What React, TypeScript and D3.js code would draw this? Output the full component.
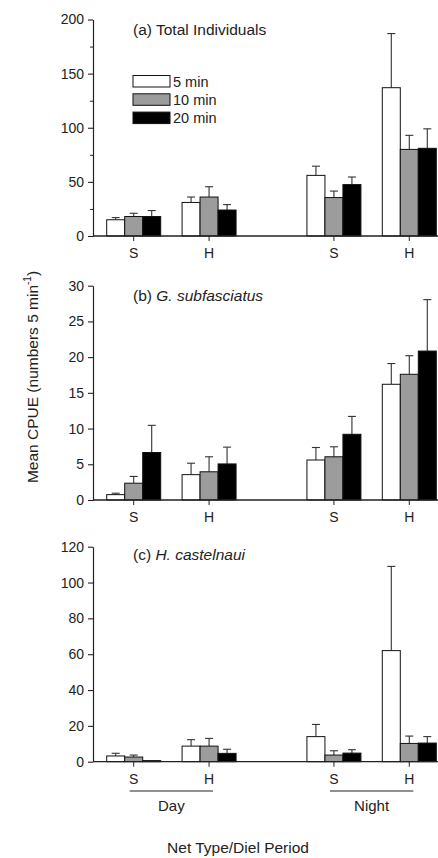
import React from 'react';
import * as d3 from 'd3';

const width = 438;
const height = 858;
const axisX = 93;
const plotRight = 450;
const font = '"Liberation Sans", Arial, sans-serif';

const netTypes = ['S', 'H', 'S', 'H'];
const periods = ['Day', 'Day', 'Night', 'Night'];
const durations = ['5 min', '10 min', '20 min'];
const fills = ['#ffffff', '#9c9c9c', '#000000'];

// (a) Total Individuals
const totalMean5 = [15, 31, 56, 137];
const totalMean10 = [18, 36, 35.5, 80];
const totalMean20 = [18, 24, 47.5, 81];
const totalSe5 = [2, 5, 8.5, 50];
const totalSe10 = [3, 9.5, 6, 13];
const totalSe20 = [5.5, 5, 7, 18];

// (b) G. subfasciatus
const gsMean5 = [0.75, 3.55, 5.6, 16.2];
const gsMean10 = [2.35, 3.95, 6.05, 17.6];
const gsMean20 = [6.65, 5.05, 9.2, 20.85];
const gsSe5 = [0.2, 1.6, 1.75, 2.9];
const gsSe10 = [0.95, 2.1, 1.4, 2.6];
const gsSe20 = [3.8, 2.35, 2.5, 7.2];

// (c) H. castelnaui
const hcMean5 = [3.2, 8.7, 14, 62];
const hcMean10 = [2.6, 8.7, 3.7, 10.2];
const hcMean20 = [0.6, 4.65, 4.8, 10.4];
const hcSe5 = [1.5, 3.6, 6.8, 47];
const hcSe10 = [1.1, 4.3, 2.4, 4.1];
const hcSe20 = [0, 2.3, 1.9, 3.6];

const outer = d3.scaleBand<string>()
  .domain(['Day', 'Night'])
  .range([axisX, plotRight])
  .paddingInner(0.4)
  .paddingOuter(0.0915);

const inner = d3.scalePoint<string>()
  .domain(['S', 'H'])
  .range([0, outer.bandwidth()])
  .padding(0.297);

const barOffset = d3.scaleBand<string>()
  .domain(durations)
  .range([-27, 27]);

const groupX = (i: number) => (outer(periods[i]) as number) + (inner(netTypes[i]) as number);

type PanelProps = {
  label: string;
  species?: string;
  max: number;
  step: number;
  minor: boolean;
  top: number;
  bottom: number;
  means: number[][];
  ses: number[][];
  titleDy: number;
  legend?: boolean;
};

const Panel: React.FC<PanelProps> = ({label, species, max, step, minor, top, bottom, means, ses, titleDy, legend}) => {
  const yAxisRef = React.useRef<SVGGElement>(null);
  const minorRef = React.useRef<SVGGElement>(null);

  const yScale = d3.scaleLinear().domain([0, max]).range([bottom, top]);

  React.useEffect(() => {
    const yAxis = d3.axisLeft(yScale)
      .tickValues(d3.range(0, max + step / 2, step))
      .tickSize(5)
      .tickSizeOuter(0)
      .tickPadding(4);
    if (yAxisRef.current) {
      const g = d3.select(yAxisRef.current).call(yAxis);
      g.select('.domain').attr('stroke', '#222').attr('stroke-width', 1.2);
      g.selectAll('.tick line').attr('stroke', '#222').attr('stroke-width', 1.1);
      g.selectAll('.tick text')
        .attr('font-family', font)
        .attr('font-size', 14)
        .attr('fill', '#222');
    }
    if (minor && minorRef.current) {
      const minorAxis = d3.axisLeft(yScale)
        .tickValues(d3.range(step / 2, max, step))
        .tickSize(3)
        .tickSizeOuter(0)
        .tickFormat(() => '');
      const g = d3.select(minorRef.current).call(minorAxis);
      g.select('.domain').remove();
      g.selectAll('.tick line').attr('stroke', '#222');
    }
  }, [max, step, top, bottom, minor]);

  return (
    <g>
      {means.map((series, s) =>
        series.map((v, i) => {
          const x = groupX(i) + (barOffset(durations[s]) as number);
          const bw = barOffset.bandwidth();
          const yTop = yScale(v);
          const yErr = yScale(v + ses[s][i]);
          const cx = x + bw / 2;
          return (
            <g key={`${s}-${i}`}>
              {ses[s][i] > 0 && (
                <g stroke='#333' strokeWidth={1.1}>
                  <line x1={cx} x2={cx} y1={yTop} y2={yErr} />
                  <line x1={cx - 4} x2={cx + 4} y1={yErr} y2={yErr} />
                </g>
              )}
              <rect x={x} y={yTop} width={bw} height={bottom - yTop}
                fill={fills[s]} stroke='#111' strokeWidth={1} />
            </g>
          );
        })
      )}
      <line x1={axisX} x2={plotRight} y1={bottom} y2={bottom} stroke='#222' strokeWidth={1.3} />
      {netTypes.map((n, i) => (
        <g key={i}>
          <line x1={groupX(i)} x2={groupX(i)} y1={bottom} y2={bottom + 5} stroke='#222' />
          <text x={groupX(i)} y={bottom + 22} textAnchor='middle' fontFamily={font} fontSize={14} fill='#222'>{n}</text>
        </g>
      ))}
      <g ref={yAxisRef} transform={`translate(${axisX}, 0)`} />
      <g ref={minorRef} transform={`translate(${axisX}, 0)`} />
      <text x={133} y={top + titleDy} fontFamily={font} fontSize={15.5} fill='#222'>
        {label}
        {species && <tspan fontStyle='italic'>{species}</tspan>}
      </text>
      {legend && durations.map((d, s) => (
        <g key={d}>
          <rect x={133} y={top + 56 + s * 18.3} width={37} height={11.5}
            fill={fills[s]} stroke='#111' strokeWidth={1} />
          <text x={173} y={top + 56 + s * 18.3 + 11} fontFamily={font} fontSize={14.5} fill='#222'>{d}</text>
        </g>
      ))}
    </g>
  );
};

const App: React.FC = () => {
  const dayX = [groupX(0), groupX(1)];
  const nightX = [groupX(2), groupX(3)];
  return (
    <svg width={width} height={height} style={{position: 'absolute', left: 0, top: 0, background: '#fff'}}>
      <Panel label='(a) Total Individuals' max={200} step={50} minor top={19.5} bottom={236}
        means={[totalMean5, totalMean10, totalMean20]} ses={[totalSe5, totalSe10, totalSe20]}
        titleDy={15} legend />
      <Panel label='(b) ' species='G. subfasciatus' max={30} step={5} minor={false} top={285.7} bottom={500}
        means={[gsMean5, gsMean10, gsMean20]} ses={[gsSe5, gsSe10, gsSe20]} titleDy={15} />
      <Panel label='(c) ' species='H. castelnaui' max={120} step={20} minor={false} top={546.7} bottom={761.7}
        means={[hcMean5, hcMean10, hcMean20]} ses={[hcSe5, hcSe10, hcSe20]} titleDy={13.5} />

      <line x1={dayX[0] - 4} x2={dayX[1] + 4} y1={791} y2={791} stroke='#222' strokeWidth={1.2} />
      <line x1={nightX[0] - 4} x2={nightX[1] + 4} y1={791} y2={791} stroke='#222' strokeWidth={1.2} />
      <text x={(dayX[0] + dayX[1]) / 2} y={811} textAnchor='middle' fontFamily={font} fontSize={15} fill='#222'>Day</text>
      <text x={(nightX[0] + nightX[1]) / 2} y={811} textAnchor='middle' fontFamily={font} fontSize={15} fill='#222'>Night</text>
      <text x={238} y={853} textAnchor='middle' fontFamily={font} fontSize={15.5} fill='#222'>Net Type/Diel Period</text>

      <text transform='translate(38, 377) rotate(-90)' textAnchor='middle' fontFamily={font} fontSize={15.5} fill='#222'>
        Mean CPUE (numbers 5 min<tspan fontSize={10} dy={-7}>-1</tspan><tspan dy={7}>)</tspan>
      </text>
    </svg>
  );
};

export default App;
